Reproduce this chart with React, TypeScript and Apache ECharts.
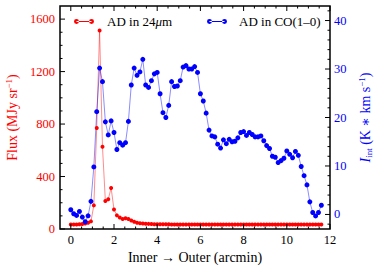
import React, { useEffect, useRef } from "react";
import * as echarts from "echarts";

// sampling step along the strip (8 arcsec = 0.1333 arcmin)
const STEP = 8 / 60;

// 24 micron flux (MJy/sr)
const flux24 = [
  35, 35, 35, 36, 38, 42, 48, 58, 180, 770,
  1513, 627, 214, 226, 313, 148, 104, 88, 76, 82,
  76, 65, 55, 48, 44, 42, 40, 39, 38, 37,
  37, 36, 36, 36, 36, 35, 35, 35, 35, 35,
  35, 35, 35, 35, 35, 35, 35, 35, 35, 35,
  35, 35, 35, 35, 35, 35, 35, 35, 35, 35,
  35, 35, 35, 35, 35, 35, 35, 35, 35, 35,
  35, 35, 35, 35, 35, 35, 35, 35, 35, 35,
  35, 35, 35, 35, 35, 35, 35, 35,
];

// CO(1-0) integrated intensity (K km/s)
const coInt = [
  0.97, 0.14, -0.2, 0.62, -0.55, -1.5, -0.28, 2.7, 9.8, 21.2,
  30.2, 27.4, 19.1, 16.4, 19.3, 16.9, 13.4, 14.8, 14.3, 14.8,
  19.2, 26.7, 30.2, 28.7, 29.4, 32.0, 26.7, 26.2, 27.6, 29.0,
  29.3, 24.9, 21.0, 20.0, 22.5, 27.4, 26.4, 26.5, 27.6, 30.4,
  30.7, 30.0, 30.0, 30.5, 29.3, 24.9, 23.4, 20.9, 17.4, 16.2,
  16.0, 14.5, 13.7, 15.4, 14.6, 15.5, 15.0, 15.1, 15.8, 16.9,
  17.1, 16.3, 16.9, 16.5, 16.0, 16.0, 16.2, 15.2, 14.2, 13.6,
  12.0, 11.8, 10.7, 11.1, 11.6, 13.1, 12.4, 11.7, 13.0, 12.2,
  9.9, 8.0, 6.1, 2.6, 0.4, -0.3, 0.4, 1.9,
];

const offsets = flux24.map((_, i) => Math.round(i * STEP * 10000) / 10000);

// tick positions
const xMajor = [0, 2, 4, 6, 8, 10, 12];
const xMinor = [0.5, 1, 1.5, 2.5, 3, 3.5, 4.5, 5, 5.5, 6.5, 7, 7.5, 8.5, 9, 9.5, 10.5, 11, 11.5];
const fluxMajor = [0, 400, 800, 1200, 1600];
const fluxMinor = [100, 200, 300, 500, 600, 700, 900, 1000, 1100, 1300, 1400, 1500];
const coMajor = [0, 10, 20, 30, 40];
const coMinor = [-2, 2, 4, 6, 8, 12, 14, 16, 18, 22, 24, 26, 28, 32, 34, 36, 38, 42];

const X_MIN = -0.5, X_MAX = 12;
const F_MIN = 0, F_MAX = 1700;
const C_MIN = -3, C_MAX = 43;

const FONT = "Liberation Serif, DejaVu Serif, serif";
const RED = "#ff0000";
const BLUE = "#0000ff";
const MAJOR_LEN = 5;
const MINOR_LEN = 2.5;
const TICK_COLOR = "#000000";

const ICON =
  "path://M0.7,3a2.3,2.3 0 1,0 4.6,0a2.3,2.3 0 1,0 -4.6,0z M14.7,3a2.3,2.3 0 1,0 4.6,0a2.3,2.3 0 1,0 -4.6,0z M3,2.6h14v0.8h-14z";

const plain = (v: number) => String(v);

// kinds: 0 x-major, 1 x-minor, 2 y-major, 3 y-minor
function tickSeries(yAxisIndex: number, side: "left" | "right", withX: boolean, yMajor: number[], yMinor: number[], yMin: number) {
  const data: number[][] = [];
  if (withX) {
    xMajor.forEach((v) => data.push([v, yMin, 0]));
    xMinor.forEach((v) => data.push([v, yMin, 1]));
  }
  yMajor.forEach((v) => data.push([X_MIN, v, 2]));
  yMinor.forEach((v) => data.push([X_MIN, v, 3]));
  return {
    type: "custom",
    xAxisIndex: 0,
    yAxisIndex,
    silent: true,
    clip: false,
    z: 5,
    encode: { x: 0, y: 1 },
    data,
    renderItem: (params: any, api: any) => {
      const cs = params.coordSys;
      const kind = api.value(2);
      const p = api.coord([api.value(0), api.value(1)]);
      const st = { stroke: TICK_COLOR, lineWidth: 1 };
      if (kind === 0 || kind === 1) {
        const len = kind === 0 ? MAJOR_LEN : MINOR_LEN;
        const x = p[0];
        const b = cs.y + cs.height;
        return {
          type: "group",
          children: [
            { type: "line", shape: { x1: x, y1: b, x2: x, y2: b - len }, style: st },
            { type: "line", shape: { x1: x, y1: cs.y, x2: x, y2: cs.y + len }, style: st },
          ],
        };
      }
      const len = kind === 2 ? MAJOR_LEN : MINOR_LEN;
      const y = p[1];
      const x0 = side === "left" ? cs.x : cs.x + cs.width;
      const dir = side === "left" ? 1 : -1;
      return { type: "line", shape: { x1: x0, y1: y, x2: x0 + dir * len, y2: y }, style: st };
    },
  };
}

export default function App() {
  const ref = useRef<HTMLDivElement>(null);
  useEffect(() => {
    if (!ref.current) return;
    const chart = echarts.init(ref.current, undefined, { renderer: "svg" });
    const option: any = {
      animation: false,
      textStyle: { fontFamily: FONT },
      grid: {
        left: 60, right: 44, top: 6, bottom: 38,
        outerBoundsMode: "none", containLabel: false,
        show: true, borderColor: "#000", borderWidth: 1.5, backgroundColor: "transparent",
      },
      legend: [
        {
          data: ["AD in 24μm"],
          left: 74,
          top: 15,
          padding: 0,
          icon: ICON,
          itemWidth: 20,
          itemHeight: 6,
          formatter: () => "AD in 24{it|μ}m",
          textStyle: {
            fontFamily: FONT, fontSize: 13, color: "#000", padding: [0, 0, 0, 8],
            rich: { it: { fontFamily: FONT, fontSize: 13, fontStyle: "italic", color: "#000" } },
          },
        },
        {
          data: ["AD in CO(1–0)"],
          left: 207,
          top: 15,
          padding: 0,
          icon: ICON,
          itemWidth: 20,
          itemHeight: 6,
          textStyle: { fontFamily: FONT, fontSize: 13, color: "#000", padding: [0, 0, 0, 7] },
        },
      ],
      xAxis: [
        {
          type: "value",
          min: X_MIN,
          max: X_MAX,
          axisLine: { show: false },
          axisTick: { show: false },
          splitLine: { show: false },
          axisLabel: { show: true, customValues: xMajor, formatter: plain, color: "#000", fontFamily: FONT, fontSize: 12.5, margin: 4 },
          name: "Inner → Outer (arcmin)",
          nameLocation: "middle",
          nameGap: 17,
          nameTextStyle: { color: "#000", fontFamily: FONT, fontSize: 14 },
        },
      ],
      yAxis: [
        {
          type: "value",
          position: "left",
          min: F_MIN,
          max: F_MAX,
          axisLine: { show: false },
          axisTick: { show: false },
          splitLine: { show: false },
          axisLabel: { show: true, customValues: fluxMajor, formatter: plain, color: RED, fontFamily: FONT, fontSize: 12.5, margin: 5 },
          name: "Flux (MJy sr{sup|−1})",
          nameLocation: "middle",
          nameRotate: 90,
          nameGap: 38,
          nameTextStyle: {
            color: RED, fontFamily: FONT, fontSize: 14,
            rich: { sup: { color: RED, fontFamily: FONT, fontSize: 9, padding: [0, 0, 7, 0] } },
          },
        },
        {
          type: "value",
          position: "right",
          min: C_MIN,
          max: C_MAX,
          axisLine: { show: false },
          axisTick: { show: false },
          splitLine: { show: false },
          axisLabel: { show: true, customValues: coMajor, formatter: plain, color: BLUE, fontFamily: FONT, fontSize: 12.5, margin: 4 },
          name: "{it|I}{sub|int} (K ∗ km s{sup|−1})",
          nameLocation: "middle",
          nameRotate: 90,
          nameGap: 23,
          nameTextStyle: {
            color: BLUE, fontFamily: FONT, fontSize: 14,
            rich: {
              it: { color: BLUE, fontFamily: FONT, fontSize: 14, fontStyle: "italic" },
              sub: { color: BLUE, fontFamily: FONT, fontSize: 9, padding: [7, 0, 0, 0] },
              sup: { color: BLUE, fontFamily: FONT, fontSize: 9, padding: [0, 0, 7, 0] },
            },
          },
        },
      ],
      series: [
        {
          name: "AD in 24μm",
          type: "line",
          xAxisIndex: 0,
          yAxisIndex: 0,
          data: flux24.map((v, i) => [offsets[i], v]),
          symbol: "circle",
          symbolSize: 4,
          itemStyle: { color: RED },
          lineStyle: { color: "rgba(255,0,0,0.45)", width: 1 },
        },
        {
          name: "AD in CO(1–0)",
          type: "line",
          xAxisIndex: 0,
          yAxisIndex: 1,
          data: coInt.map((v, i) => [offsets[i], v]),
          symbol: "circle",
          symbolSize: 5,
          itemStyle: { color: BLUE },
          lineStyle: { color: "rgba(0,0,255,0.45)", width: 1 },
        },
        tickSeries(0, "left", true, fluxMajor, fluxMinor, F_MIN),
        tickSeries(1, "right", false, coMajor, coMinor, C_MIN),
      ],
    };
    chart.setOption(option);
    return () => chart.dispose();
  }, []);
  return <div ref={ref} style={{ position: "absolute", left: 0, top: 0, width: 374, height: 267 }} />;
}
